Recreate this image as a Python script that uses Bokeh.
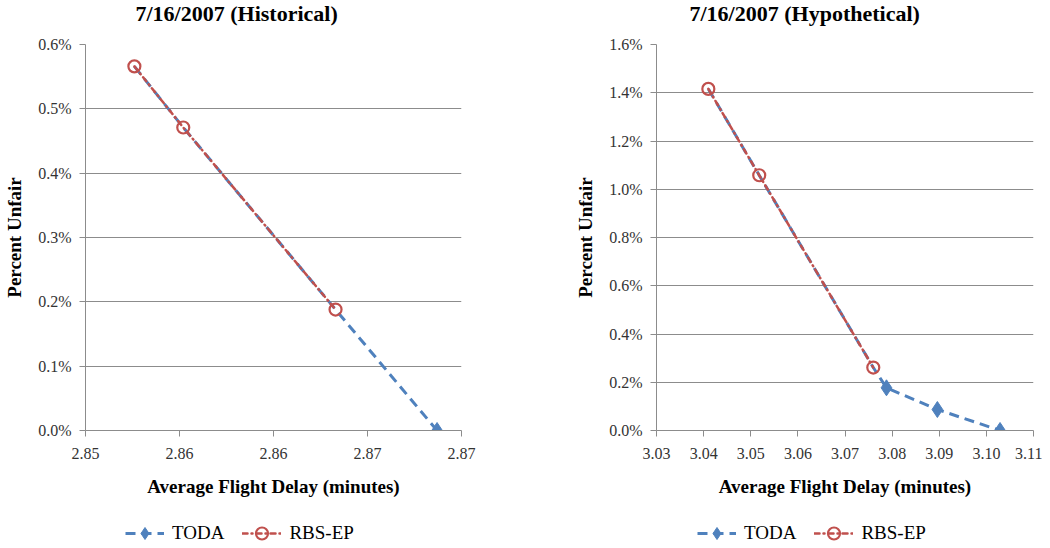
from bokeh.plotting import figure
from bokeh.layouts import row, column
from bokeh.models import FixedTicker, NumeralTickFormatter, Legend, LegendItem, Label
from bokeh.embed import file_html
from bokeh.resources import INLINE

# ---- data ----
hist_title = "7/16/2007 (Historical)"
hyp_title = "7/16/2007 (Hypothetical)"
series_names = ["TODA", "RBS-EP"]

hist_toda_x = [2.8526, 2.8552, 2.8633, 2.8687]
hist_toda_y = [0.00566, 0.00471, 0.00188, 0.0]
hist_rbs_x = [2.8526, 2.8552, 2.8633]
hist_rbs_y = [0.00566, 0.00471, 0.00188]
hist_xticks = [2.85, 2.855, 2.86, 2.865, 2.87]
hist_xlabels = ["2.85", "2.86", "2.86", "2.87", "2.87"]
hist_yticks = [0.0, 0.001, 0.002, 0.003, 0.004, 0.005, 0.006]

hyp_toda_x = [3.0410, 3.0518, 3.0760, 3.0788, 3.0896, 3.1029]
hyp_toda_y = [0.01416, 0.01058, 0.00261, 0.00177, 0.00087, 0.0]
hyp_rbs_x = [3.0410, 3.0518, 3.0760]
hyp_rbs_y = [0.01416, 0.01058, 0.00261]
hyp_xticks = [3.03, 3.04, 3.05, 3.06, 3.07, 3.08, 3.09, 3.10, 3.11]
hyp_xlabels = ["3.03", "3.04", "3.05", "3.06", "3.07", "3.08", "3.09", "3.10", "3.11"]
hyp_yticks = [0.0, 0.002, 0.004, 0.006, 0.008, 0.010, 0.012, 0.014, 0.016]

BLUE = "#4F81BD"
RED = "#C0504D"
GRID = "#8C8C8C"
SERIF = "Liberation Serif"

TODA_LINE = dict(line_color=BLUE, line_width=3, line_dash="10 6")
TODA_MARK = dict(marker="diamond", size=16, fill_color=BLUE, line_color=BLUE)
RBS_LINE = dict(line_color=RED, line_width=2.5, line_dash="5 4 1 4", line_cap="round")
RBS_MARK = dict(marker="circle", size=12, fill_color=None, line_color=RED, line_width=2.2)


def blank(width, height):
    f = figure(width=width, height=height, x_range=(0, 1), y_range=(0, 1),
               x_axis_type=None, y_axis_type=None, output_backend="svg",
               toolbar_location=None, min_border=0)
    f.outline_line_color = None
    f.grid.visible = False
    return f


def make_title(width, text, x0):
    f = blank(width, 30)
    f.add_layout(Label(x=x0, y=17, x_units="screen", y_units="screen", text=text,
                       text_font=SERIF, text_font_size="22px", text_font_style="bold",
                       text_color="#000000", text_align="left", text_baseline="middle"))
    return f


def make(tx, ty, rx, ry, xticks, xlabels, yticks, xr, yr, fw, bl, br):
    p = figure(frame_width=fw, frame_height=386, x_range=xr, y_range=yr,
               output_backend="svg", toolbar_location=None,
               min_border_left=bl, min_border_right=br,
               min_border_top=14, min_border_bottom=80)
    p.outline_line_color = None

    p.xgrid.visible = False
    p.ygrid.grid_line_color = GRID
    p.ygrid.grid_line_width = 1

    for ax in (p.xaxis[0], p.yaxis[0]):
        ax.axis_line_color = GRID
        ax.major_tick_line_color = GRID
        ax.major_tick_out = 6
        ax.major_tick_in = 0
        ax.minor_tick_line_color = None
        ax.major_label_text_font = SERIF
        ax.major_label_text_font_size = "16px"
        ax.major_label_text_color = "#333333"
        ax.axis_label_text_font = SERIF
        ax.axis_label_text_font_size = "19px"
        ax.axis_label_text_font_style = "bold"
        ax.axis_label_text_color = "#000000"

    p.xaxis.ticker = FixedTicker(ticks=xticks)
    p.xaxis.major_label_overrides = {t: l for t, l in zip(xticks, xlabels)}
    p.xaxis.axis_label = "Average Flight Delay (minutes)"
    p.xaxis.major_label_standoff = 11
    p.xaxis.axis_label_standoff = 14

    p.yaxis.ticker = FixedTicker(ticks=yticks)
    p.yaxis.formatter = NumeralTickFormatter(format="0.0%")
    p.yaxis.axis_label = "Percent Unfair"
    p.yaxis.major_label_standoff = 8
    p.yaxis.axis_label_standoff = 10

    p.line(tx, ty, **TODA_LINE)
    rset = set(zip(rx, ry))
    mx = [x for x, y in zip(tx, ty) if (x, y) not in rset]
    my = [y for x, y in zip(tx, ty) if (x, y) not in rset]
    p.scatter(mx, my, **TODA_MARK)
    p.line(rx, ry, **RBS_LINE)
    p.scatter(rx, ry, **RBS_MARK)
    return p


def make_legend(width, x0, tx, ty, rx, ry):
    # legend proxies: the series are drawn outside this strip's (0..1) x range,
    # so only their legend glyphs show
    f = blank(width, 38)
    l1 = f.line(tx, ty, **TODA_LINE)
    m1 = f.scatter(tx, ty, **TODA_MARK)
    l2 = f.line(rx, ry, **RBS_LINE)
    m2 = f.scatter(rx, ry, **RBS_MARK)
    leg = Legend(items=[LegendItem(label=series_names[0], renderers=[l1, m1]),
                        LegendItem(label=series_names[1], renderers=[l2, m2])],
                 orientation="horizontal", location=(x0, 0),
                 glyph_width=39, glyph_height=30, label_standoff=8, spacing=18,
                 label_text_font=SERIF, label_text_font_size="19px",
                 label_text_color="#000000", border_line_color=None,
                 background_fill_alpha=0, padding=0, margin=0)
    f.add_layout(leg, "center")
    return f


t1 = make_title(485, hist_title, 135)
t2 = make_title(557, hyp_title, 204)
p1 = make(hist_toda_x, hist_toda_y, hist_rbs_x, hist_rbs_y,
          hist_xticks, hist_xlabels, hist_yticks, (2.85, 2.87), (0, 0.006),
          376, 85, 24)
p2 = make(hyp_toda_x, hyp_toda_y, hyp_rbs_x, hyp_rbs_y,
          hyp_xticks, hyp_xlabels, hyp_yticks, (3.03, 3.11), (0, 0.016),
          377, 171, 9)
g1 = make_legend(485, 125, hist_toda_x, hist_toda_y, hist_rbs_x, hist_rbs_y)
g2 = make_legend(557, 212, hyp_toda_x, hyp_toda_y, hyp_rbs_x, hyp_rbs_y)

layout = column(row(t1, t2), row(p1, p2), row(g1, g2))
open("out.html", "w").write(file_html(layout, INLINE))
